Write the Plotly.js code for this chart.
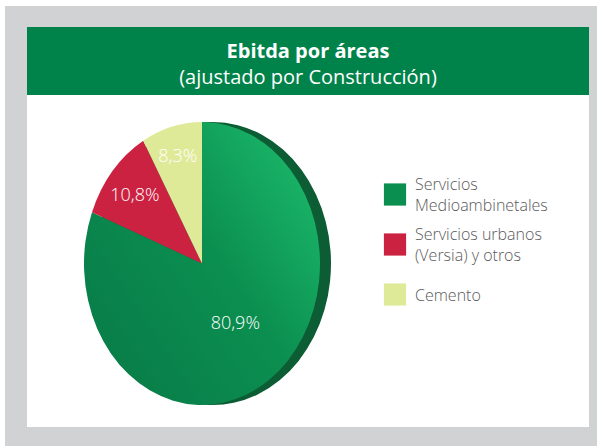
<!DOCTYPE html>
<html>
<head>
<meta charset="utf-8">
<script src="https://cdn.plot.ly/plotly-3.0.1.min.js"></script>
<style>html,body{margin:0;padding:0;background:#fff;}#chart{width:600px;height:446px;}</style>
</head>
<body>
<div id="chart"></div>
<script>
// ---- data ----
var labels = ['Servicios<br>Medioambinetales', 'Servicios urbanos<br>(Versia) y otros', 'Cemento'];
var values = [80.9, 10.8, 8.3];
var sliceColors = ['#0b8f50', '#cc2242', '#dfea98'];
var rimColors = ['#0c5c34', '#0c5c34', '#0c5c34'];
var titleMain = 'Ebitda por áreas';
var titleSub = '(ajustado por Construcción)';

// ---- geometry (pixels) ----
var W = 600, H = 446;
var cx = 202, cy = 263.5, r = 118, rimShift = 11, ry = 141.5;
var k = ry / r;
var legendTargets = [194.5, 244.5, 294.5];
function px(x){ return x / W; }
function py(y){ return 1 - y / H; }

var face = {
  type: 'pie', labels: labels, values: values, sort: false,
  direction: 'clockwise', rotation: 0,
  marker: {colors: sliceColors, line: {width: 0}},
  texttemplate: '%{value:.1f}%', textposition: 'inside', insidetextorientation: 'horizontal',
  textfont: {family: 'Open Sans', size: 18, color: '#ffffff', weight: 300},
  hoverinfo: 'label+percent',
  domain: {x: [px(cx - r), px(cx + r)], y: [py(cy + r), py(cy - r)]},
  showlegend: true
};
var rim = {
  type: 'pie', labels: labels, values: values, sort: false,
  direction: 'clockwise', rotation: 0,
  marker: {colors: rimColors, line: {width: 0}},
  textinfo: 'none', hoverinfo: 'skip',
  domain: {x: [px(cx - r + rimShift), px(cx + r + rimShift)], y: [py(cy + r), py(cy - r)]},
  showlegend: false
};

var layout = {
  width: W, height: H,
  margin: {l: 0, r: 0, t: 0, b: 0},
  paper_bgcolor: '#ffffff',
  separators: ',.',
  title: {
    text: '<b>' + titleMain + '</b><br>' + titleSub,
    font: {family: 'Open Sans', size: 20, color: '#ffffff'},
    x: px(308), xanchor: 'center', y: py(57.5), yanchor: 'middle'
  },
  shapes: [
    {type: 'rect', xref: 'paper', yref: 'paper', x0: px(5), x1: px(597), y0: 0, y1: py(6), fillcolor: '#d1d2d4', line: {width: 0}, layer: 'below'},
    {type: 'rect', xref: 'paper', yref: 'paper', x0: px(27), x1: px(589), y0: py(427), y1: py(27), fillcolor: '#ffffff', line: {width: 0}, layer: 'below'},
    {type: 'rect', xref: 'paper', yref: 'paper', x0: px(27), x1: px(589), y0: py(95), y1: py(27), fillcolor: '#00834a', line: {width: 0}, layer: 'below'}
  ],
  legend: {
    x: px(375), y: py(176), xanchor: 'left', yanchor: 'top',
    font: {family: 'Open Sans', size: 16, color: '#5a5a5a', weight: 300},
    bgcolor: 'rgba(0,0,0,0)', itemclick: false, itemdoubleclick: false
  },
  showlegend: true
};

var gd = document.getElementById('chart');
Plotly.newPlot(gd, [rim, face], layout, {displayModeBar: false, staticPlot: true}).then(function(){
  var svg = gd.querySelector('svg.main-svg');
  var NS = 'http://www.w3.org/2000/svg';
  var defs = document.createElementNS(NS, 'defs');
  var grad = document.createElementNS(NS, 'linearGradient');
  grad.setAttribute('id', 'faceGrad');
  grad.setAttribute('x1', '0'); grad.setAttribute('y1', '0.9');
  grad.setAttribute('x2', '1'); grad.setAttribute('y2', '0.1');
  [['0', '#087a47'], ['0.55', '#0b8f50'], ['1', '#1cbb6c']].forEach(function(s){
    var st = document.createElementNS(NS, 'stop');
    st.setAttribute('offset', s[0]); st.setAttribute('stop-color', s[1]);
    grad.appendChild(st);
  });
  defs.appendChild(grad);
  svg.insertBefore(defs, svg.firstChild);

  // stretch the pies vertically into the tilted ellipse of the original
  var traces = gd.querySelectorAll('.pielayer .trace');
  traces.forEach(function(tr, ti){
    tr.querySelectorAll('path.surface').forEach(function(p){
      p.setAttribute('transform', 'matrix(1,0,0,' + k + ',0,' + (cy * (1 - k)) + ')');
    });
    tr.querySelectorAll('g.slicetext').forEach(function(g){
      var b = g.getBBox();
      var ty = b.y + b.height / 2;
      g.setAttribute('transform', 'translate(0,' + ((ty - cy) * (k - 1)) + ')');
    });
    if (ti === traces.length - 1) {
      var first = tr.querySelector('g.slice path.surface');
      if (first) first.style.fill = 'url(#faceGrad)';
    }
  });
  // legend: no clipping, larger swatches, evenly spaced like the original
  gd.querySelectorAll('.legend [clip-path]').forEach(function(el){ el.removeAttribute('clip-path'); });
  var items = gd.querySelectorAll('.legend .traces');
  items.forEach(function(it, i){
    var p = it.querySelector('.legendpoints path');
    if (p) p.setAttribute('transform', (p.getAttribute('transform') || '') + ' scale(1.85)');
    if (p && legendTargets[i] !== undefined) {
      var rc = p.getBoundingClientRect();
      var svgRc = svg.getBoundingClientRect();
      var cur = rc.top - svgRc.top + rc.height / 2;
      it.setAttribute('transform', (it.getAttribute('transform') || '') + ' translate(0,' + (legendTargets[i] - cur) + ')');
    }
  });
});
</script>
</body>
</html>
